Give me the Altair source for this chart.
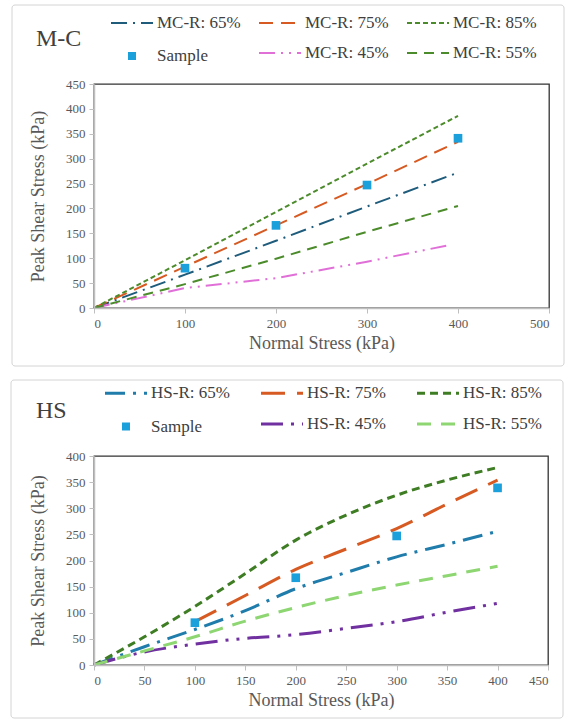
import altair as alt
import pandas as pd

# ---------------- data: M-C panel ----------------
mc_names = ["MC-R: 65%", "MC-R: 75%", "MC-R: 85%", "Sample", "MC-R: 45%", "MC-R: 55%"]
mc_x = [0, 100, 200, 300, 400]
mc_x45 = [0, 100, 200, 300, 392]
mc65 = [0, 67, 135, 204, 272]
mc75 = [0, 83, 166, 249, 334]
mc85 = [0, 96, 193, 290, 386]
mc45 = [0, 40, 60, 93, 127]
mc55 = [0, 48, 99, 153, 205]
mc_sample_x = [100, 200, 300, 400]
mc_sample = [80, 166, 247, 341]

# ---------------- data: HS panel ----------------
hs_names = ["HS-R: 65%", "HS-R: 75%", "HS-R: 85%", "Sample", "HS-R: 45%", "HS-R: 55%"]
hs_x = [0, 50, 100, 150, 200, 250, 300, 350, 400]
hs_x75 = [100, 150, 200, 250, 300, 350, 400]
hs65 = [0, 35, 68, 104, 146, 177, 207, 231, 256]
hs75 = [83, 133, 183, 222, 261, 308, 354]
hs85 = [0, 54, 112, 175, 239, 287, 325, 354, 378]
hs45 = [0, 25, 40, 51, 58, 70, 83, 101, 118]
hs55 = [0, 27, 54, 84, 110, 133, 153, 171, 189]
hs_sample_x = [100, 200, 300, 400]
hs_sample = [81, 167, 247, 339]

SAMPLE_COLOR = "#1CA0DC"
FONT = "Liberation Serif, Times New Roman, DejaVu Serif, serif"
GREY = "#595959"

mc_colors = ["#1F5C7C", "#D65A22", "#4C8B2B", SAMPLE_COLOR, "#E070D8", "#4C8B2B"]
mc_dashes = [[16, 6, 2, 6], [14, 8], [5, 3], [0, 17, 8, 100], [16, 6, 2, 6, 2, 6], [10, 7]]
mc_widths = [2, 2, 2, 8, 2, 2]
hs_colors = ["#1F7CAB", "#D65A22", "#3E7D23", SAMPLE_COLOR, "#7030A0", "#8DD672"]
hs_dashes = [[20, 8, 3, 8], [24, 12], [8, 5], [0, 17, 8, 100], [22, 8, 3, 8, 3, 8], [14, 10]]
hs_widths = [3, 3, 3, 8, 3, 3]


def long_df(pairs):
    rows = []
    for name, xs, ys in pairs:
        for xv, yv in zip(xs, ys):
            rows.append({"series": name, "x": xv, "y": yv})
    return pd.DataFrame(rows)


mc_lines = long_df([
    (mc_names[0], mc_x, mc65), (mc_names[1], mc_x, mc75), (mc_names[2], mc_x, mc85),
    (mc_names[4], mc_x45, mc45), (mc_names[5], mc_x, mc55),
])
mc_pts = pd.DataFrame({"x": mc_sample_x, "y": mc_sample})
hs_lines = long_df([
    (hs_names[0], hs_x, hs65), (hs_names[1], hs_x75, hs75), (hs_names[2], hs_x, hs85),
    (hs_names[4], hs_x, hs45), (hs_names[5], hs_x, hs55),
])
hs_pts = pd.DataFrame({"x": hs_sample_x, "y": hs_sample})


def axis(title, values, title_pad):
    return alt.Axis(
        values=values, title=title, labelFont=FONT, labelFontSize=13, labelColor=GREY,
        titleFont=FONT, titleFontSize=18, titleColor=GREY, titleFontWeight="normal",
        domainColor="#bfbfbf", domainWidth=1.5, tickColor="#bfbfbf", tickSize=5,
        grid=False, zindex=1, labelOverlap=False, labelPadding=4, titlePadding=title_pad,
    )


def panel(title, names, colors, dashes, widths, lines, pts, xmax, xstep, ymax, w, h,
          interp, frame, leg, title_dxy):
    legend = alt.Legend(
        title=None, orient="none", legendX=leg["x"], legendY=leg["y"],
        columns=3, direction="horizontal", symbolType="stroke", symbolSize=leg["size"],
        labelFont=FONT, labelFontSize=17, labelColor="#404040",
        columnPadding=leg["colpad"], rowPadding=0, labelOffset=0, labelLimit=200,
    )
    xenc = alt.X("x:Q", scale=alt.Scale(domain=[0, xmax], nice=False),
                 axis=axis("Normal Stress (kPa)", list(range(0, xmax + 1, xstep)), 4))
    yenc = alt.Y("y:Q", scale=alt.Scale(domain=[0, ymax], nice=False),
                 axis=axis("Peak Shear Stress (kPa)", list(range(0, ymax + 1, 50)), 18))
    box = alt.Chart(alt.Data(values=[{}])).mark_rect(
        fill="transparent", stroke="#d4d4d4", strokeWidth=1, cornerRadius=3
    ).encode(x=alt.value(frame[0]), x2=alt.value(frame[1]),
             y=alt.value(frame[2]), y2=alt.value(frame[3]))
    ln = alt.Chart(lines).mark_line(interpolate=interp).encode(
        x=xenc, y=yenc,
        color=alt.Color("series:N", scale=alt.Scale(domain=names, range=colors), legend=legend),
        strokeDash=alt.StrokeDash("series:N", scale=alt.Scale(domain=names, range=dashes), legend=legend),
        strokeWidth=alt.StrokeWidth("series:N", scale=alt.Scale(type="ordinal", domain=names, range=widths),
                                    legend=legend),
    )
    pt = alt.Chart(pts).mark_square(size=75, color=SAMPLE_COLOR, opacity=1).encode(x=xenc, y=yenc)
    return alt.layer(box, ln, pt).properties(
        width=w, height=h,
        title=alt.TitleParams(text=title, font=FONT, fontSize=24, fontWeight="normal",
                              color="#404040", anchor="start", frame="group",
                              dx=title_dxy[0], dy=title_dxy[1]),
    )


top = panel("M-C", mc_names, mc_colors, mc_dashes, mc_widths, mc_lines, mc_pts, 500, 100, 450, 455, 224,
            "linear", (-82, 470, -79, 282),
            {"x": 13, "y": -83, "size": 1764, "colpad": 14}, (-58, 54))
bottom = panel("HS", hs_names, hs_colors, hs_dashes, hs_widths, hs_lines, hs_pts, 450, 50, 400, 454, 209,
               "monotone", (-83, 469, -76, 262),
               {"x": 7, "y": -85.5, "size": 1764, "colpad": 25}, (-58, 56))

chart = alt.vconcat(top, bottom, spacing=1).resolve_scale(
    x="independent", y="independent", color="independent", strokeDash="independent",
    strokeWidth="independent"
).resolve_legend(color="independent", strokeDash="independent", strokeWidth="independent").properties(
    padding={"left": 9, "top": 0, "right": 0, "bottom": 0}
).configure_view(stroke="#333333", strokeWidth=1.3)

chart.save("out.html", embed_options={"renderer": "svg", "actions": False})
